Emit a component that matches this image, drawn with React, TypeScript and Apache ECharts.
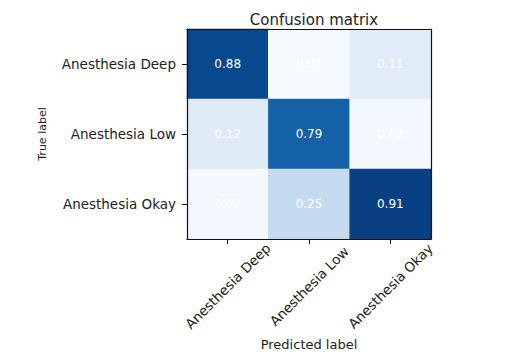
import React, { useEffect, useRef } from "react";
import * as echarts from "echarts";

const predictedLabels = ["Anesthesia Deep", "Anesthesia Low", "Anesthesia Okay"];
const trueLabels = ["Anesthesia Deep", "Anesthesia Low", "Anesthesia Okay"];
const rowDeep = [0.88, 0.01, 0.11];
const rowLow = [0.12, 0.79, 0.02];
const rowOkay = [0.02, 0.25, 0.91];
const matrix = [rowDeep, rowLow, rowOkay];
const blues = ["#f7fbff", "#deebf7", "#c6dbef", "#9ecae1", "#6baed6", "#4292c6", "#2171b5", "#08519c", "#08306b"];

const FONT = "DejaVu Sans";

export default function App() {
  const ref = useRef<HTMLDivElement>(null);
  useEffect(() => {
    document.body.style.margin = "0";
    if (!ref.current) return;
    const chart = echarts.init(ref.current, null, { renderer: "svg" });
    const data: [number, number, number][] = [];
    matrix.forEach((row, i) => row.forEach((v, j) => data.push([j, i, v])));
    chart.setOption({
      animation: false,
      backgroundColor: "#ffffff",
      textStyle: { fontFamily: FONT },
      title: {
        text: "Confusion matrix",
        left: 309,
        top: 7,
        textAlign: "center",
        textStyle: { fontFamily: FONT, fontSize: 15, fontWeight: "normal", color: "#222" },
      },
      grid: { left: 187, top: 29, width: 244, height: 210, show: false },
      visualMap: {
        show: false,
        min: 0,
        max: 0.97,
        dimension: 2,
        inRange: { color: blues },
      },
      xAxis: [
        {
          type: "category",
          data: predictedLabels,
          position: "bottom",
          z: 10,
          axisLine: { show: true, lineStyle: { color: "#111", width: 1.2 } },
          axisTick: { show: true, alignWithLabel: true, length: 5, lineStyle: { color: "#111" } },
          axisLabel: {
            rotate: 45,
            align: "center",
            verticalAlign: "middle",
            margin: 47,
            fontSize: 13.5,
            fontFamily: FONT,
            color: "#222",
          },
          splitLine: { show: false },
          name: "Predicted label",
          nameLocation: "middle",
          nameGap: 92,
          nameTextStyle: { fontSize: 13, fontFamily: FONT, color: "#222" },
        },
        {
          type: "category",
          data: predictedLabels,
          position: "top",
          z: 10,
          axisLine: { show: true, lineStyle: { color: "#111", width: 1.2 } },
          axisTick: { show: false },
          axisLabel: { show: false },
        },
      ],
      yAxis: [
        {
          type: "category",
          data: trueLabels,
          inverse: true,
          position: "left",
          z: 10,
          axisLine: { show: true, lineStyle: { color: "#111", width: 1.2 } },
          axisTick: { show: true, alignWithLabel: true, length: 5, lineStyle: { color: "#111" } },
          axisLabel: { margin: 11, fontSize: 13.5, fontFamily: FONT, color: "#222" },
          splitLine: { show: false },
          name: "True label",
          nameLocation: "middle",
          nameGap: 139,
          nameTextStyle: { fontSize: 11, fontFamily: FONT, color: "#222" },
        },
        {
          type: "category",
          data: trueLabels,
          inverse: true,
          position: "right",
          z: 10,
          axisLine: { show: true, lineStyle: { color: "#111", width: 1.2 } },
          axisTick: { show: false },
          axisLabel: { show: false },
        },
      ],
      series: [
        {
          type: "heatmap",
          xAxisIndex: 0,
          yAxisIndex: 0,
          data,
          itemStyle: { borderWidth: 0 },
          label: {
            show: true,
            color: "#ffffff",
            fontSize: 12,
            fontFamily: FONT,
            formatter: (p: any) => p.value[2].toFixed(2),
          },
          emphasis: { disabled: true },
        },
      ],
    });
    return () => chart.dispose();
  }, []);
  return <div ref={ref} style={{ width: 518, height: 364 }} />;
}
